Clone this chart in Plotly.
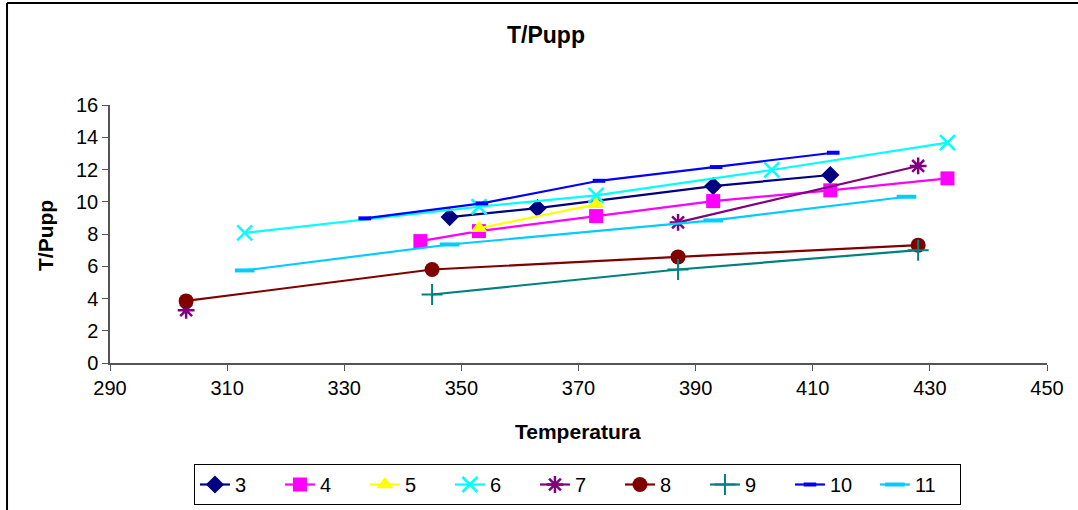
import plotly.graph_objects as go

# Temperature (K) and T/Pupp readings for each series
t3 = [348, 363, 393, 413]
v3 = [9.05, 9.6, 10.97, 11.66]
t4 = [343, 353, 373, 393, 413, 433]
v4 = [7.56, 8.18, 9.11, 10.04, 10.71, 11.45]
t5 = [353, 373]
v5 = [8.35, 9.84]
t6 = [313, 353, 373, 403, 433]
v6 = [8.07, 9.69, 10.4, 11.97, 13.67]
# series 7 has no reading at 345 K, so its line breaks there
t7 = [303, 345, 387, 428]
v7 = [3.27, None, 8.72, 12.22]
t8 = [303, 345, 387, 428]
v8 = [3.85, 5.8, 6.58, 7.31]
t9 = [345, 387, 428]
v9 = [4.25, 5.8, 7.0]
t10 = [333.5, 353.5, 373.5, 393.5, 413.5]
v10 = [8.97, 9.9, 11.3, 12.15, 13.04]
t11 = [313, 348, 393, 426]
v11 = [5.74, 7.35, 8.84, 10.31]

series_names = ["3", "4", "5", "6", "7", "8", "9", "10", "11"]
x_ticks = [290, 310, 330, 350, 370, 390, 410, 430, 450]
y_ticks = [0, 2, 4, 6, 8, 10, 12, 14, 16]

FONT = "Liberation Sans, Arial, sans-serif"

styles = [
    dict(color="#000080", symbol="diamond", size=14, lw=0),
    dict(color="#FF00FF", symbol="square", size=14, lw=0),
    dict(color="#FFFF00", symbol="triangle-up", size=15, lw=0),
    dict(color="#00FFFF", symbol="x-thin-open", size=15, lw=2.5),
    dict(color="#800080", symbol="asterisk-open", size=14, lw=2.5),
    dict(color="#800000", symbol="circle", size=15, lw=0),
    dict(color="#008080", symbol="cross-thin-open", size=15, lw=2),
    dict(color="#0000FF", symbol="line-ew-open", size=9, lw=4),
    dict(color="#00CCFF", symbol="line-ew-open", size=14, lw=4),
]

xs = [t3, t4, t5, t6, t7, t8, t9, t10, t11]
ys = [v3, v4, v5, v6, v7, v8, v9, v10, v11]

fig = go.Figure()
for name, x, y, st in zip(series_names, xs, ys, styles):
    fig.add_trace(go.Scatter(
        x=x, y=y, name=name, mode="lines+markers", connectgaps=False,
        line=dict(color=st["color"], width=2.2),
        marker=dict(symbol=st["symbol"], size=st["size"], color=st["color"],
                    line=dict(color=st["color"], width=st["lw"])),
    ))

fig.update_layout(
    width=1078, height=510,
    margin=dict(l=110, r=31, t=105, b=147, autoexpand=False),
    paper_bgcolor="white", plot_bgcolor="white",
    font=dict(family=FONT, size=20, color="black"),
    showlegend=True,
    legend=dict(
        orientation="h", x=0.0896, y=-0.5504, xanchor="left", yanchor="bottom",
        bordercolor="black", borderwidth=1, bgcolor="white",
        font=dict(family=FONT, size=20), entrywidth=40, entrywidthmode="pixels",
        traceorder="normal", tracegroupgap=0,
    ),
    xaxis=dict(
        range=[290, 450], tickvals=x_ticks, ticktext=[str(v) for v in x_ticks],
        showgrid=False, zeroline=False, showline=True, linecolor="#555555",
        linewidth=1.5, ticks="outside", ticklen=6, tickcolor="#555555",
        tickfont=dict(family=FONT, size=20),
    ),
    yaxis=dict(
        range=[0, 16], tickvals=y_ticks, ticktext=[str(v) for v in y_ticks],
        showgrid=False, zeroline=False, showline=True, linecolor="#555555",
        linewidth=1.5, ticks="outside", ticklen=6, tickcolor="#555555",
        tickfont=dict(family=FONT, size=20),
    ),
    annotations=[
        dict(text="<b>T/Pupp</b>", x=0.4653, y=1.271, xref="paper", yref="paper",
             showarrow=False, font=dict(family=FONT, size=23), xanchor="center", yanchor="middle"),
        dict(text="<b>Temperatura</b>", x=0.4995, y=-0.2674, xref="paper", yref="paper",
             showarrow=False, font=dict(family=FONT, size=21), xanchor="center", yanchor="middle"),
        dict(text="<b>T/Pupp</b>", x=-0.0694, y=0.496, xref="paper", yref="paper",
             showarrow=False, font=dict(family=FONT, size=21), textangle=-90,
             xanchor="center", yanchor="middle"),
    ],
    shapes=[
        dict(type="line", xref="paper", yref="paper", x0=-0.1099, x1=1.04,
             y0=1.3953, y1=1.3953, line=dict(color="black", width=2)),
        dict(type="line", xref="paper", yref="paper", x0=-0.1099, x1=-0.1099,
             y0=1.3953, y1=-0.58, line=dict(color="black", width=2)),
    ],
)

fig.write_html("out.html")
